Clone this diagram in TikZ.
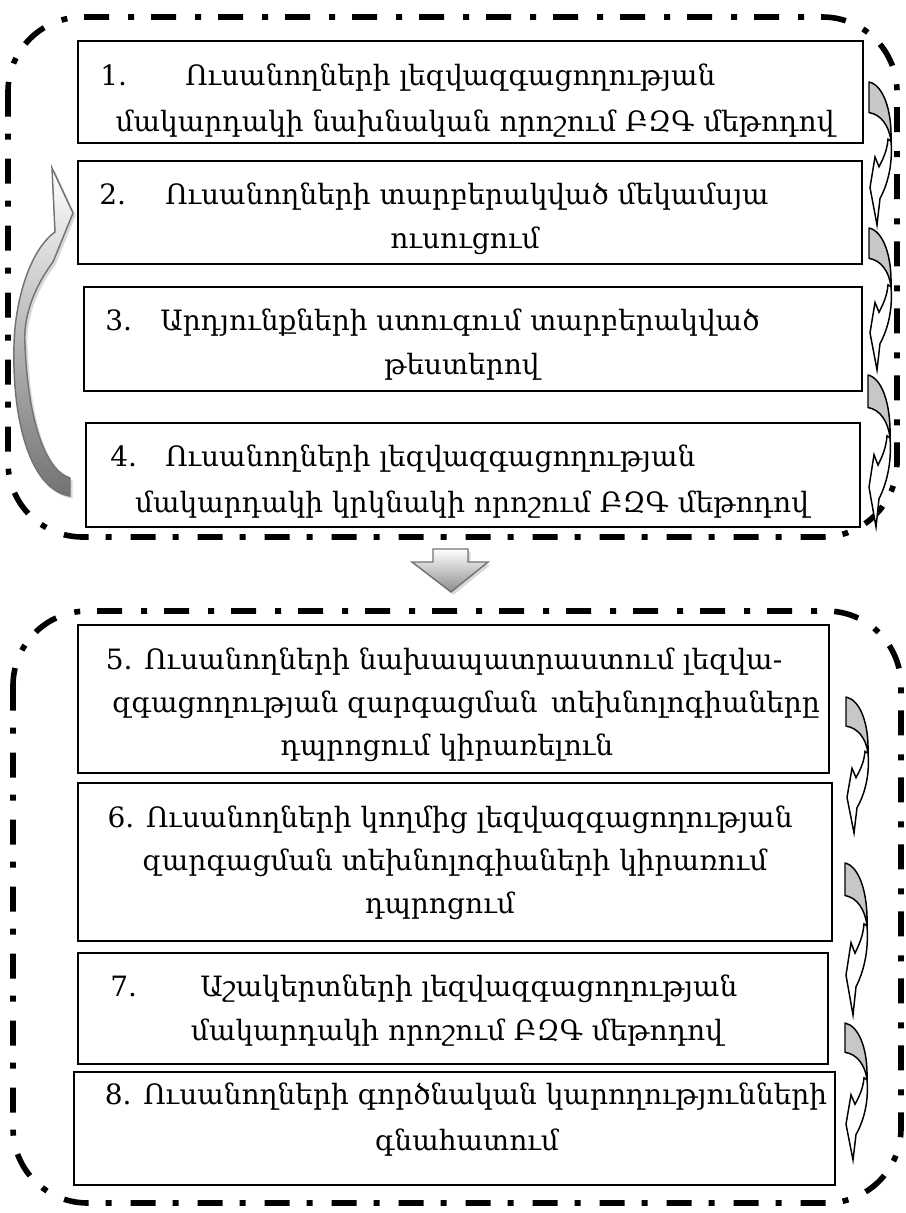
\documentclass[tikz,border=0pt]{standalone}
\usepackage{fontspec}
\setmainfont{DejaVu Serif}
\usetikzlibrary{shadows,fit}
\tikzset{
  box/.style={draw=black, line width=1.9pt, inner sep=0pt, rectangle},
  frame/.style={draw=black, line width=4.2pt, rounded corners=56pt,
    dash pattern=on 18.75pt off 12.75pt on 4.5pt off 14.25pt},
  txt/.style={font=\fontsize{21pt}{30pt}\selectfont, inner sep=0pt, anchor=base},
  num/.style={txt, anchor=base west},
  cback/.style={draw=black, line width=1.1pt, fill=black!22, line join=round},
  cfront/.style={draw=black, line width=1.1pt, fill=white, line join=miter},
  bigarrow/.style={draw=black!55, line width=1.1pt, top color=white, bottom color=black!55,
    drop shadow={opacity=0.3, shadow xshift=2pt, shadow yshift=-2pt}},
}
\newcommand\curvarr[3]{%
  \begin{scope}[shift={(#1,#2)}, yscale=#3/145]
    \path[cfront] (22,60) .. controls (24,85) and (18,105) .. (11,118) -- (8,145) -- (1,107) -- (6,76)
      -- (10,86) .. controls (14,78) and (18,70) .. (19,58) -- cycle;
    \path[cback] (0,0) .. controls (14,3) and (23,28) .. (22,60)
      .. controls (20,44) and (12,33) .. (0,31) -- cycle;
  \end{scope}}
\begin{document}
\begin{tikzpicture}[x=0.75pt,y=-0.75pt]
\useasboundingbox (0,0) rectangle (906,1213);

% outer frames
\draw[frame] (8,17) rectangle (897,537);
\draw[frame] (13,611) rectangle (901,1203);

% boxes
\node[box, fit={(78,41) (863,143)}] (b1) {};
\node[box, fit={(78,161) (862,264)}] (b2) {};
\node[box, fit={(84,287) (862,391)}] (b3) {};
\node[box, fit={(86,423) (860,527)}] (b4) {};
\node[box, fit={(78,625) (829,773)}] (b5) {};
\node[box, fit={(78,783) (832,941)}] (b6) {};
\node[box, fit={(78,953) (828,1064)}] (b7) {};
\node[box, fit={(74,1072) (835,1185)}] (b8) {};

% texts
\node[num] (n1) at (100,85) {1.};
\node[num] (t1a) at (185,85) {Ուսանողների լեզվազգացողության};
\node[txt] (t1b) at (475,131) {մակարդակի նախնական որոշում ԲԶԳ մեթոդով};

\node[num] (n2) at (99,204) {2.};
\node[num] (t2a) at (165,204) {Ուսանողների տարբերակված մեկամսյա};
\node[txt] (t2b) at (465,248) {ուսուցում};

\node[num] (n3) at (105,330) {3.};
\node[num] (t3a) at (160,330) {Արդյունքների ստուգում տարբերակված};
\node[txt] (t3b) at (462,374) {թեստերով};

\node[num] (n4) at (110,466) {4.};
\node[num] (t4a) at (165,466) {Ուսանողների լեզվազգացողության};
\node[txt] (t4b) at (472,512) {մակարդակի կրկնակի որոշում ԲԶԳ մեթոդով};

\node[txt] (t5a) at (444,669) {5. Ուսանողների նախապատրաստում լեզվա-};
\node[txt] (t5b) at (466,712) {զգացողության զարգացման\, տեխնոլոգիաները};
\node[txt] (t5c) at (447,755) {դպրոցում կիրառելուն};

\node[txt] (t6a) at (450,827) {6. Ուսանողների կողմից լեզվազգացողության};
\node[txt] (t6b) at (455,870) {զարգացման տեխնոլոգիաների կիրառում};
\node[txt] (t6c) at (440,913) {դպրոցում};

\node[num] (n7) at (110,996) {7.};
\node[num] (t7a) at (200,996) {Աշակերտների լեզվազգացողության};
\node[txt] (t7b) at (457,1040) {մակարդակի որոշում ԲԶԳ մեթոդով};

\node[txt] (t8a) at (466,1104) {8. Ուսանողների գործնական կարողությունների};
\node[txt] (t8b) at (467,1150) {գնահատում};

% small curved arrows
\curvarr{869}{82}{143}
\curvarr{869}{228}{142}
\curvarr{868}{375}{152}
\curvarr{846}{697}{136}
\curvarr{845}{863}{152}
\curvarr{845}{1023}{137}

% big left return arrow
\path[bigarrow] (52,168) -- (73,213) -- (53,262)
  .. controls (32,290) and (23,320) .. (25,345)
  .. controls (28,420) and (45,470) .. (70,478) -- (70,496)
  .. controls (30,490) and (12,420) .. (14,345)
  .. controls (15,300) and (30,250) .. (55,232) -- cycle;

% down block arrow
\path[bigarrow, bottom color=black!45] (433,549) -- (468,549) -- (468,562) -- (488,562) -- (451,592)
  -- (412,562) -- (433,562) -- cycle;
\end{tikzpicture}
\end{document}
